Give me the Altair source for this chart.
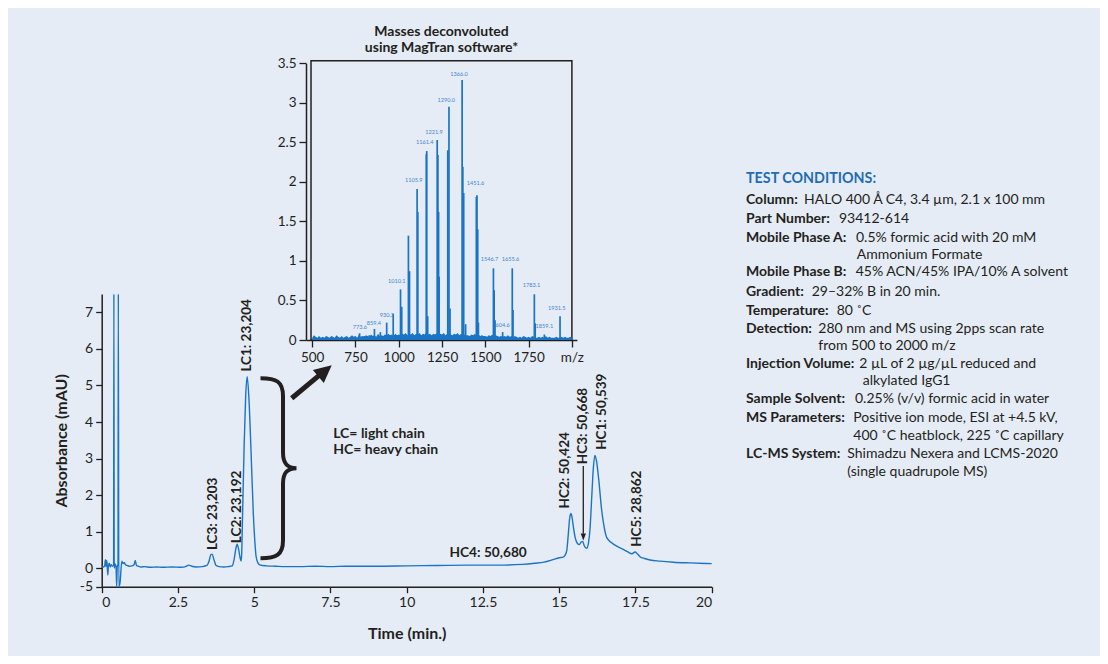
import altair as alt
import pandas as pd

# ---------------- chromatogram (UV trace) ----------------
time_min = [0.00, 0.06, 0.10, 0.12, 0.14, 0.16, 0.18, 0.20, 0.22, 0.25, 0.28, 0.31, 0.35, 0.39,
            0.400, 0.410, 0.44, 0.47, 0.49, 0.51, 0.535, 0.545, 0.56, 0.60, 0.66, 0.70, 0.74, 0.78,
            0.83, 0.90, 1.00, 1.06, 1.10, 1.14, 1.20, 1.30, 1.40, 1.60, 1.80, 2.00, 2.30, 2.60,
            2.75, 2.85, 2.95, 3.10, 3.30, 3.45, 3.52, 3.58, 3.62, 3.68, 3.75, 3.85, 4.00, 4.15,
            4.28, 4.34, 4.39, 4.44, 4.49, 4.54, 4.57, 4.59, 4.62, 4.67, 4.72, 4.77, 4.83, 4.89,
            4.97, 5.02, 5.06, 5.12, 5.20, 5.40, 5.70, 6.00, 6.50, 7.00, 7.50, 8.00, 9.00, 10.00,
            11.00, 12.00, 13.00, 13.80, 14.20, 14.50, 14.80, 15.00, 15.13, 15.20, 15.25, 15.30,
            15.34, 15.38, 15.42, 15.47, 15.53, 15.60, 15.66, 15.72, 15.77, 15.82, 15.90, 15.96,
            16.01, 16.07, 16.12, 16.17, 16.22, 16.30, 16.39, 16.47, 16.56, 16.72, 16.90, 17.10,
            17.25, 17.38, 17.49, 17.56, 17.65, 17.80, 17.98, 18.30, 18.74, 19.30, 20.00]
absorbance = [0.05, 0.04, 0.08, 0.24, 0.05, 0.22, 0.10, -0.18, 0.07, 0.14, 0.04, 0.10, 0.06, 0.09,
              7.5, 0.00, 0.12, 0.05, -0.5, 0.05, 0.10, 7.5, -0.5, -0.4, 0.20, 0.13, 0.16, 0.10,
              0.08, 0.06, 0.07, 0.10, 0.22, 0.08, 0.06, 0.04, 0.05, 0.03, 0.04, 0.03, 0.04, 0.03,
              0.05, 0.09, 0.06, 0.04, 0.05, 0.08, 0.20, 0.38, 0.39, 0.24, 0.08, 0.05, 0.04, 0.05,
              0.07, 0.24, 0.50, 0.66, 0.52, 0.28, 0.20, 0.40, 1.52, 3.35, 4.70, 5.24, 4.60, 3.35,
              1.52, 0.75, 0.34, 0.15, 0.09, 0.07, 0.06, 0.05, 0.05, 0.06, 0.05, 0.06, 0.06, 0.07,
              0.08, 0.09, 0.09, 0.11, 0.14, 0.17, 0.24, 0.29, 0.31, 0.37, 0.50, 0.95,
              1.35, 1.50, 1.40, 1.10, 0.82, 0.68, 0.65, 0.72, 0.74, 0.62, 0.55, 0.70,
              1.07, 2.00, 2.75, 3.09, 2.95, 2.40, 1.61, 1.15, 0.84, 0.70, 0.60, 0.52,
              0.45, 0.40, 0.45, 0.40, 0.32, 0.27, 0.23, 0.20, 0.17, 0.15, 0.13]

peak_labels = ["LC3: 23,203", "LC2: 23,192", "LC1: 23,204", "HC2: 50,424",
               "HC3: 50,668", "HC1: 50,539", "HC5: 28,862"]
peak_label_time = [3.66, 4.45, 4.75, 15.19, 15.79, 16.39, 17.54]
peak_label_abs = [0.50, 0.69, 5.38, 1.64, 2.85, 3.24, 0.59]

hc4_label = ["HC4: 50,680"]
hc4_time = [12.67]
hc4_abs = [0.43]

legend_lines = ["LC= light chain", "HC= heavy chain"]

# ---------------- deconvolution mass spectrum (inset) ----------------
ms_mz = [773.6, 801.0, 829.7, 859.4, 893.5, 930.2, 967.8, 1010.1, 1017.0, 1055.7, 1062.0,
         1105.9, 1110.0, 1159.0, 1161.4, 1167.0, 1221.9, 1226.0, 1230.0, 1233.0, 1283.0,
         1290.0, 1296.0, 1366.0, 1370.0, 1375.0, 1386.0, 1448.0, 1451.6, 1456.0, 1460.0,
         1546.7, 1551.0, 1556.0, 1600.0, 1655.6, 1660.0, 1783.1, 1788.0, 1841.0, 1931.5]
ms_intensity = [0.085, 0.05, 0.06, 0.14, 0.10, 0.22, 0.33, 0.64, 0.42, 1.32, 0.87,
                1.91, 1.62, 2.35, 2.39, 0.30, 2.53, 2.34, 1.62, 0.80, 2.40,
                2.95, 0.40, 3.29, 2.19, 1.86, 0.20, 1.81, 1.83, 1.40, 0.22,
                0.907, 0.63, 0.25, 0.10, 0.907, 0.38, 0.578, 0.21, 0.07, 0.30]

noise_mz_start, noise_mz_step = 500, 10
noise_intensity = [0.03, 0.06, 0.04, 0.03, 0.05, 0.03, 0.04, 0.03, 0.05, 0.04,
                   0.03, 0.05, 0.04, 0.03, 0.06, 0.04, 0.03, 0.05, 0.03, 0.04,
                   0.05, 0.03, 0.04, 0.06, 0.04, 0.05, 0.03, 0.07, 0.04, 0.05,
                   0.04, 0.06, 0.05, 0.04, 0.07, 0.05, 0.06, 0.04, 0.08, 0.05,
                   0.06, 0.05, 0.07, 0.06, 0.08, 0.06, 0.07, 0.05, 0.08, 0.06,
                   0.07, 0.06, 0.08, 0.07, 0.09, 0.06, 0.08, 0.07, 0.09, 0.06,
                   0.08, 0.07, 0.09, 0.06, 0.08, 0.07, 0.10, 0.07, 0.08, 0.06,
                   0.08, 0.07, 0.09, 0.06, 0.08, 0.07, 0.09, 0.06, 0.08, 0.07,
                   0.07, 0.06, 0.08, 0.07, 0.09, 0.06, 0.08, 0.05, 0.07, 0.06,
                   0.06, 0.05, 0.07, 0.06, 0.08, 0.05, 0.07, 0.05, 0.06, 0.05,
                   0.05, 0.04, 0.06, 0.05, 0.07, 0.04, 0.06, 0.05, 0.04, 0.05,
                   0.04, 0.05, 0.04, 0.06, 0.04, 0.05, 0.03, 0.05, 0.04, 0.03,
                   0.04, 0.03, 0.05, 0.04, 0.03, 0.04, 0.03, 0.05, 0.04, 0.03,
                   0.03, 0.04, 0.03, 0.04, 0.03, 0.05, 0.03, 0.04, 0.03, 0.03,
                   0.03, 0.04, 0.03, 0.03, 0.04, 0.03, 0.04, 0.03, 0.03, 0.04,
                   0.03]

ms_label_text = ["773.6", "859.4", "930.2", "1010.1", "1105.9", "1161.4", "1221.9", "1290.0",
                 "1366.0", "1451.6", "1546.7", "1655.6", "1783.1", "1931.5", "604.6", "1859.1"]
ms_label_mz = [775, 856, 931, 988, 1087, 1150, 1204, 1274, 1348, 1443, 1524, 1645, 1767, 1912,
               1600, 1841]
ms_label_int = [0.16, 0.22, 0.32, 0.75, 2.02, 2.50, 2.63, 3.04, 3.37, 1.99, 1.02, 1.02, 0.69,
                0.41, 0.19, 0.18]

inset_title = ["Masses deconvoluted", "using MagTran software*"]

# ---------------- test conditions panel ----------------
cond_header = "TEST CONDITIONS:"
cond_labels = ["Column:", "Part Number:", "Mobile Phase A:", "", "Mobile Phase B:", "Gradient:",
               "Temperature:", "Detection:", "", "Injection Volume:", "", "Sample Solvent:",
               "MS Parameters:", "", "LC-MS System:", ""]
cond_values = ["HALO 400 Å C4, 3.4 µm, 2.1 x 100 mm", "93412-614",
               "0.5% formic acid with 20 mM", "Ammonium Formate",
               "45% ACN/45% IPA/10% A solvent", "29–32% B in 20 min.", "80 ˚C",
               "280 nm and MS using 2pps scan rate", "from 500 to 2000 m/z",
               "2 µL of 2 µg/µL reduced and", "alkylated IgG1",
               "0.25% (v/v) formic acid in water", "Positive ion mode, ESI at +4.5 kV,",
               "400 ˚C heatblock, 225 ˚C capillary", "Shimadzu Nexera and LCMS-2020",
               "(single quadrupole MS)"]

# ---------------- layout (pixels, chart coordinates) ----------------
W, H = 1092, 648
FONT = "Lato"
INK = "#231f20"
BLUE = "#1a74c6"
BG = "#e6ecf6"

cond_label_x = 738
cond_value_x = [796, 831, 848, 848.7, 847.7, 803.7, 828.7, 810.3, 810.3, 851.3, 854.7, 847,
                845.3, 845.3, 839.3, 839.3]
cond_y = [192, 211.3, 229.7, 247, 264.3, 283.7, 303, 321, 337.7, 356, 373, 391.3, 410.3, 427.7,
          446, 463.7]
cond_header_y = 170.5
inset_title_x = 433.5
inset_title_y = [23.7, 39.5]

main_x_scale = alt.Scale(domain=[0, 20], range=[93.7, 703.7], nice=False, zero=False)
main_y_scale = alt.Scale(domain=[-0.5, 7.5], range=[578.7, 286.0], nice=False, zero=False,
                         clamp=True)
inset_x_scale = alt.Scale(domain=[493, 2000], range=[298.0, 568.9], nice=False, zero=False)
inset_y_scale = alt.Scale(domain=[0, 3.5], range=[332.0, 55.3], nice=False, zero=False)

axis_style = dict(grid=False, domainColor=INK, domainWidth=1.5, tickColor=INK, tickWidth=1.3,
                  labelFont=FONT, labelColor=INK, titleFont=FONT, titleColor=INK,
                  titleFontWeight="bold", titleFontSize=16, labelPadding=3)

main_x_axis = alt.Axis(title="Time (min.)", orient="bottom", offset=578.7 - H,
                       values=[0, 2.5, 5, 7.5, 10, 12.5, 15, 17.5, 20],
                       labelExpr="'' + datum.value",
                       tickSize=6, labelFontSize=14, titlePadding=16, **axis_style)
main_y_axis = alt.Axis(title="Absorbance (mAU)", orient="left", offset=-93.7,
                       values=[-0.5, 0, 1, 2, 3, 4, 5, 6, 7],
                       labelExpr="datum.value < 0 ? '-5' : '' + datum.value",
                       tickSize=6, labelFontSize=14, titlePadding=10, **axis_style)
inset_x_axis = alt.Axis(title=None, orient="bottom", offset=332.0 - H,
                        values=[500, 750, 1000, 1250, 1500, 1750, 2000],
                        labelExpr="datum.value == 2000 ? 'm/z' : '' + datum.value",
                        tickSize=7, labelFontSize=13.5, **axis_style)
inset_y_axis = alt.Axis(title=None, orient="left", offset=-298.0,
                        values=[0, 0.5, 1, 1.5, 2, 2.5, 3, 3.5],
                        labelExpr="'' + datum.value",
                        tickSize=7, labelFontSize=13.5, **axis_style)


def MX(field="t"):
    return alt.X(f"{field}:Q", scale=main_x_scale, axis=main_x_axis)


def MY(field="v"):
    return alt.Y(f"{field}:Q", scale=main_y_scale, axis=main_y_axis)


def IX(field="mz"):
    return alt.X(f"{field}:Q", scale=inset_x_scale, axis=inset_x_axis)


def IY(field="i"):
    return alt.Y(f"{field}:Q", scale=inset_y_scale, axis=inset_y_axis)


# ---------------- main chart ----------------
trace_df = pd.DataFrame({"t": time_min, "v": absorbance})
line = alt.Chart(trace_df).mark_line(color=BLUE, strokeWidth=1.4, interpolate="monotone").encode(
    x=MX(), y=MY())

peaks_df = pd.DataFrame({"t": peak_label_time, "v": peak_label_abs, "label": peak_labels})
peak_text = alt.Chart(peaks_df).mark_text(
    angle=270, align="left", baseline="middle", font=FONT, fontWeight="bold", fontSize=13.5,
    color=INK).encode(x=MX(), y=MY(), text="label:N")

hc4_df = pd.DataFrame({"t": hc4_time, "v": hc4_abs, "label": hc4_label})
hc4_text = alt.Chart(hc4_df).mark_text(
    align="center", baseline="middle", font=FONT, fontWeight="bold", fontSize=13.7,
    color=INK).encode(x=MX(), y=MY(), text="label:N")

hc3_arrow_df = pd.DataFrame({"t": [15.79], "v": [2.80], "v2": [0.95]})
hc3_rule = alt.Chart(hc3_arrow_df).mark_rule(color=INK, strokeWidth=1.3).encode(
    x=MX(), y=MY(), y2="v2:Q")
hc3_head_df = pd.DataFrame({"t": [15.79], "v": [0.88]})
hc3_head = alt.Chart(hc3_head_df).mark_point(
    shape="M0,1L0.6,-0.6L-0.6,-0.6Z", filled=True, size=77, color=INK, opacity=1).encode(
    x=MX(), y=MY())

brace_path = ("M-0.2,-1 C-0.02,-1 0.05,-0.96 0.05,-0.8 L0.05,-0.17 C0.05,-0.05 0.1,0 0.2,0 "
              "C0.1,0 0.05,0.05 0.05,0.17 L0.05,0.8 C0.05,0.96 -0.02,1 -0.2,1")
brace_df = pd.DataFrame({"t": [5.797], "v": [2.74]})
brace = alt.Chart(brace_df).mark_point(
    shape=brace_path, filled=False, size=32400, stroke=INK, strokeWidth=4, opacity=1).encode(
    x=MX(), y=MY())

arrow_df = pd.DataFrame({"t": [6.23], "v": [4.65], "t2": [7.15], "v2": [5.29]})
arrow_rule = alt.Chart(arrow_df).mark_rule(color=INK, strokeWidth=5).encode(
    x=MX(), y=MY(), x2="t2:Q", y2="v2:Q")
arrow_head_df = pd.DataFrame({"t": [7.267], "v": [5.36]})
arrow_head = alt.Chart(arrow_head_df).mark_point(
    shape="M0,-1L0.78,0.6L-0.78,0.6Z", filled=True, size=479, angle=50, color=INK,
    opacity=1).encode(x=MX(), y=MY())

legend_df = pd.DataFrame({"t": [7.59, 7.59], "v": [3.67, 3.24], "label": legend_lines})
legend_text = alt.Chart(legend_df).mark_text(
    align="left", baseline="middle", font=FONT, fontWeight="bold", fontSize=14,
    color=INK).encode(x=MX(), y=MY(), text="label:N")

main = alt.layer(line, peak_text, hc4_text, hc3_rule, hc3_head, brace, arrow_rule, arrow_head,
                 legend_text)

# ---------------- inset ----------------
noise_df = pd.DataFrame({
    "mz": [noise_mz_start + noise_mz_step * k for k in range(len(noise_intensity))],
    "i": noise_intensity})
noise = alt.Chart(noise_df).mark_area(color=BLUE, opacity=1).encode(x=IX(), y=IY())

spec_df = pd.DataFrame({"mz": ms_mz, "i": ms_intensity})
spec = alt.Chart(spec_df).mark_bar(color=BLUE, size=1.7).encode(x=IX(), y=IY())

ms_lab_df = pd.DataFrame({"mz": ms_label_mz, "i": ms_label_int, "label": ms_label_text})
ms_labels = alt.Chart(ms_lab_df).mark_text(
    font=FONT, fontSize=5.6, color="#3f86cc", align="center", baseline="middle").encode(
    x=IX(), y=IY(), text="label:N")

frame_df = pd.DataFrame({"mz": [493], "mz2": [2000], "i": [0], "i2": [3.533]})
frame = alt.Chart(frame_df).mark_rect(fillOpacity=0, stroke=INK, strokeWidth=1.5).encode(
    x=IX(), x2="mz2:Q", y=IY(), y2="i2:Q")

inset = alt.layer(frame, noise, spec, ms_labels)

# ---------------- texts placed in pixels ----------------
PX = lambda f: alt.X(f"{f}:Q", scale=None, axis=None)
PY = lambda f: alt.Y(f"{f}:Q", scale=None, axis=None)

title_df = pd.DataFrame({"px": [inset_title_x] * 2, "py": inset_title_y, "txt": inset_title})
inset_title_text = alt.Chart(title_df).mark_text(
    font=FONT, fontWeight="bold", fontSize=14, color=INK, align="center",
    baseline="middle").encode(x=PX("px"), y=PY("py"), text="txt:N")

head_df = pd.DataFrame({"px": [cond_label_x], "py": [cond_header_y], "txt": [cond_header]})
head_text = alt.Chart(head_df).mark_text(
    font=FONT, fontWeight="bold", fontSize=14.3, color="#1f6db5", align="left",
    baseline="middle").encode(x=PX("px"), y=PY("py"), text="txt:N")

lab_df = pd.DataFrame({"px": [cond_label_x] * len(cond_labels), "py": cond_y, "txt": cond_labels})
lab_text = alt.Chart(lab_df).mark_text(
    font=FONT, fontWeight="bold", fontSize=14, color=INK, align="left",
    baseline="middle").encode(x=PX("px"), y=PY("py"), text="txt:N")

val_df = pd.DataFrame({"px": cond_value_x, "py": cond_y, "txt": cond_values})
val_text = alt.Chart(val_df).mark_text(
    font=FONT, fontSize=14, color=INK, align="left", baseline="middle").encode(
    x=PX("px"), y=PY("py"), text="txt:N")

panel = alt.layer(inset_title_text, head_text, lab_text, val_text)

chart = alt.layer(main, inset, panel).resolve_scale(
    x="independent", y="independent").properties(
    width=W, height=H, autosize=alt.AutoSizeParams(type="none"), padding=0,
    background=BG).configure_view(stroke=None)

chart.save("out.html", embed_options={"renderer": "svg", "actions": False})
